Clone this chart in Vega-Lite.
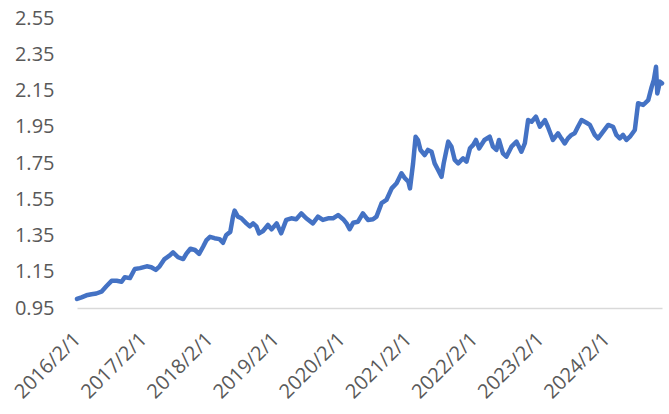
{
  "$schema": "https://vega.github.io/schema/vega-lite/v6.json",
  "width": 585,
  "height": 290,
  "autosize": "none",
  "padding": {"left": 77, "top": 18, "right": 7, "bottom": 106},
  "background": "white",
  "config": {"view": {"stroke": null}, "font": "Open Sans"},
  "data": {"values": [
    {"date": "2016-02-01", "v": 1.000},
    {"date": "2016-02-26", "v": 1.009},
    {"date": "2016-03-24", "v": 1.020},
    {"date": "2016-04-21", "v": 1.026},
    {"date": "2016-05-18", "v": 1.030},
    {"date": "2016-06-15", "v": 1.040},
    {"date": "2016-07-12", "v": 1.070},
    {"date": "2016-08-10", "v": 1.100},
    {"date": "2016-09-07", "v": 1.100},
    {"date": "2016-10-04", "v": 1.095},
    {"date": "2016-10-22", "v": 1.120},
    {"date": "2016-11-19", "v": 1.115},
    {"date": "2016-12-16", "v": 1.165},
    {"date": "2017-01-14", "v": 1.170},
    {"date": "2017-02-20", "v": 1.180},
    {"date": "2017-03-17", "v": 1.175},
    {"date": "2017-04-11", "v": 1.160},
    {"date": "2017-05-02", "v": 1.180},
    {"date": "2017-05-29", "v": 1.220},
    {"date": "2017-06-27", "v": 1.240},
    {"date": "2017-07-15", "v": 1.257},
    {"date": "2017-08-12", "v": 1.230},
    {"date": "2017-09-09", "v": 1.220},
    {"date": "2017-09-27", "v": 1.250},
    {"date": "2017-10-19", "v": 1.277},
    {"date": "2017-11-13", "v": 1.270},
    {"date": "2017-12-06", "v": 1.248},
    {"date": "2017-12-28", "v": 1.288},
    {"date": "2018-01-16", "v": 1.325},
    {"date": "2018-02-04", "v": 1.343},
    {"date": "2018-03-01", "v": 1.335},
    {"date": "2018-03-29", "v": 1.330},
    {"date": "2018-04-17", "v": 1.310},
    {"date": "2018-05-05", "v": 1.353},
    {"date": "2018-05-27", "v": 1.370},
    {"date": "2018-06-11", "v": 1.454},
    {"date": "2018-06-20", "v": 1.487},
    {"date": "2018-07-08", "v": 1.454},
    {"date": "2018-07-27", "v": 1.445},
    {"date": "2018-08-24", "v": 1.417},
    {"date": "2018-09-12", "v": 1.400},
    {"date": "2018-09-30", "v": 1.417},
    {"date": "2018-10-18", "v": 1.400},
    {"date": "2018-11-02", "v": 1.362},
    {"date": "2018-11-24", "v": 1.375},
    {"date": "2018-12-21", "v": 1.408},
    {"date": "2019-01-10", "v": 1.384},
    {"date": "2019-02-07", "v": 1.417},
    {"date": "2019-03-04", "v": 1.362},
    {"date": "2019-04-01", "v": 1.436},
    {"date": "2019-04-29", "v": 1.445},
    {"date": "2019-05-26", "v": 1.440},
    {"date": "2019-06-23", "v": 1.472},
    {"date": "2019-07-20", "v": 1.445},
    {"date": "2019-08-26", "v": 1.417},
    {"date": "2019-09-23", "v": 1.454},
    {"date": "2019-10-20", "v": 1.436},
    {"date": "2019-11-18", "v": 1.445},
    {"date": "2019-12-15", "v": 1.445},
    {"date": "2020-01-12", "v": 1.463},
    {"date": "2020-02-09", "v": 1.440},
    {"date": "2020-02-28", "v": 1.417},
    {"date": "2020-03-16", "v": 1.385},
    {"date": "2020-04-04", "v": 1.420},
    {"date": "2020-05-01", "v": 1.426},
    {"date": "2020-05-28", "v": 1.472},
    {"date": "2020-06-25", "v": 1.436},
    {"date": "2020-07-23", "v": 1.440},
    {"date": "2020-08-11", "v": 1.454},
    {"date": "2020-09-08", "v": 1.528},
    {"date": "2020-10-05", "v": 1.546},
    {"date": "2020-11-03", "v": 1.610},
    {"date": "2020-11-30", "v": 1.638},
    {"date": "2020-12-27", "v": 1.693},
    {"date": "2021-01-15", "v": 1.666},
    {"date": "2021-02-03", "v": 1.647},
    {"date": "2021-02-12", "v": 1.610},
    {"date": "2021-03-01", "v": 1.748},
    {"date": "2021-03-15", "v": 1.895},
    {"date": "2021-03-28", "v": 1.877},
    {"date": "2021-04-11", "v": 1.822},
    {"date": "2021-05-04", "v": 1.794},
    {"date": "2021-05-22", "v": 1.822},
    {"date": "2021-06-11", "v": 1.812},
    {"date": "2021-06-28", "v": 1.748},
    {"date": "2021-07-17", "v": 1.711},
    {"date": "2021-08-05", "v": 1.674},
    {"date": "2021-08-17", "v": 1.748},
    {"date": "2021-09-11", "v": 1.868},
    {"date": "2021-09-29", "v": 1.840},
    {"date": "2021-10-17", "v": 1.767},
    {"date": "2021-11-05", "v": 1.748},
    {"date": "2021-12-02", "v": 1.776},
    {"date": "2021-12-21", "v": 1.757},
    {"date": "2022-01-09", "v": 1.831},
    {"date": "2022-01-27", "v": 1.850},
    {"date": "2022-02-11", "v": 1.877},
    {"date": "2022-03-01", "v": 1.831},
    {"date": "2022-03-30", "v": 1.877},
    {"date": "2022-04-28", "v": 1.895},
    {"date": "2022-05-16", "v": 1.840},
    {"date": "2022-06-04", "v": 1.822},
    {"date": "2022-06-18", "v": 1.877},
    {"date": "2022-07-10", "v": 1.803},
    {"date": "2022-07-29", "v": 1.785},
    {"date": "2022-08-26", "v": 1.840},
    {"date": "2022-09-23", "v": 1.868},
    {"date": "2022-10-20", "v": 1.812},
    {"date": "2022-11-08", "v": 1.859},
    {"date": "2022-11-26", "v": 1.987},
    {"date": "2022-12-15", "v": 1.978},
    {"date": "2023-01-08", "v": 2.006},
    {"date": "2023-01-30", "v": 1.950},
    {"date": "2023-02-27", "v": 1.987},
    {"date": "2023-03-15", "v": 1.950},
    {"date": "2023-04-12", "v": 1.877},
    {"date": "2023-05-10", "v": 1.914},
    {"date": "2023-05-28", "v": 1.886},
    {"date": "2023-06-16", "v": 1.858},
    {"date": "2023-07-04", "v": 1.886},
    {"date": "2023-07-23", "v": 1.905},
    {"date": "2023-08-10", "v": 1.914},
    {"date": "2023-08-28", "v": 1.950},
    {"date": "2023-09-17", "v": 1.987},
    {"date": "2023-10-14", "v": 1.972},
    {"date": "2023-11-02", "v": 1.960},
    {"date": "2023-11-29", "v": 1.905},
    {"date": "2023-12-17", "v": 1.886},
    {"date": "2024-01-14", "v": 1.923},
    {"date": "2024-02-11", "v": 1.960},
    {"date": "2024-03-09", "v": 1.950},
    {"date": "2024-03-27", "v": 1.905},
    {"date": "2024-04-15", "v": 1.886},
    {"date": "2024-05-03", "v": 1.905},
    {"date": "2024-05-22", "v": 1.877},
    {"date": "2024-06-10", "v": 1.895},
    {"date": "2024-07-07", "v": 1.932},
    {"date": "2024-07-25", "v": 2.080},
    {"date": "2024-08-22", "v": 2.070},
    {"date": "2024-09-19", "v": 2.097},
    {"date": "2024-10-08", "v": 2.170},
    {"date": "2024-10-20", "v": 2.208},
    {"date": "2024-11-01", "v": 2.281},
    {"date": "2024-11-08", "v": 2.134},
    {"date": "2024-11-23", "v": 2.199},
    {"date": "2024-12-04", "v": 2.190}
  ]},
  "mark": {"type": "line", "color": "#4472C4", "strokeWidth": 4.5, "strokeJoin": "round", "strokeCap": "round"},
  "encoding": {
    "x": {
      "field": "date", "type": "temporal",
      "scale": {"type": "utc", "domain": [{"year": 2016, "month": 2, "date": 1, "utc": true}, {"year": 2024, "month": 12, "date": 4, "utc": true}], "nice": false},
      "axis": {
        "title": null,
        "values": [
          {"year": 2016, "month": 2, "date": 1, "utc": true},
          {"year": 2017, "month": 2, "date": 1, "utc": true},
          {"year": 2018, "month": 2, "date": 1, "utc": true},
          {"year": 2019, "month": 2, "date": 1, "utc": true},
          {"year": 2020, "month": 2, "date": 1, "utc": true},
          {"year": 2021, "month": 2, "date": 1, "utc": true},
          {"year": 2022, "month": 2, "date": 1, "utc": true},
          {"year": 2023, "month": 2, "date": 1, "utc": true},
          {"year": 2024, "month": 2, "date": 1, "utc": true}
        ],
        "format": "%Y/%-m/%-d",
        "labelAngle": -45,
        "labelAlign": "right",
        "labelBaseline": "middle",
        "labelPadding": 28,
        "labelFontSize": 20,
        "labelColor": "#595959",
        "labelFont": "Open Sans",
        "labelOverlap": false,
        "labelFlush": false,
        "ticks": false,
        "grid": false,
        "domainColor": "#D9D9D9",
        "domainWidth": 1.5
      }
    },
    "y": {
      "field": "v", "type": "quantitative",
      "scale": {"domain": [0.95, 2.55], "nice": false, "zero": false},
      "axis": {
        "title": null,
        "values": [0.95, 1.15, 1.35, 1.55, 1.75, 1.95, 2.15, 2.35, 2.55],
        "format": ".2f",
        "labelFontSize": 20,
        "labelColor": "#595959",
        "labelFont": "Open Sans",
        "labelPadding": 23,
        "labelFlush": false,
        "ticks": false,
        "domain": false,
        "grid": false
      }
    }
  }
}
